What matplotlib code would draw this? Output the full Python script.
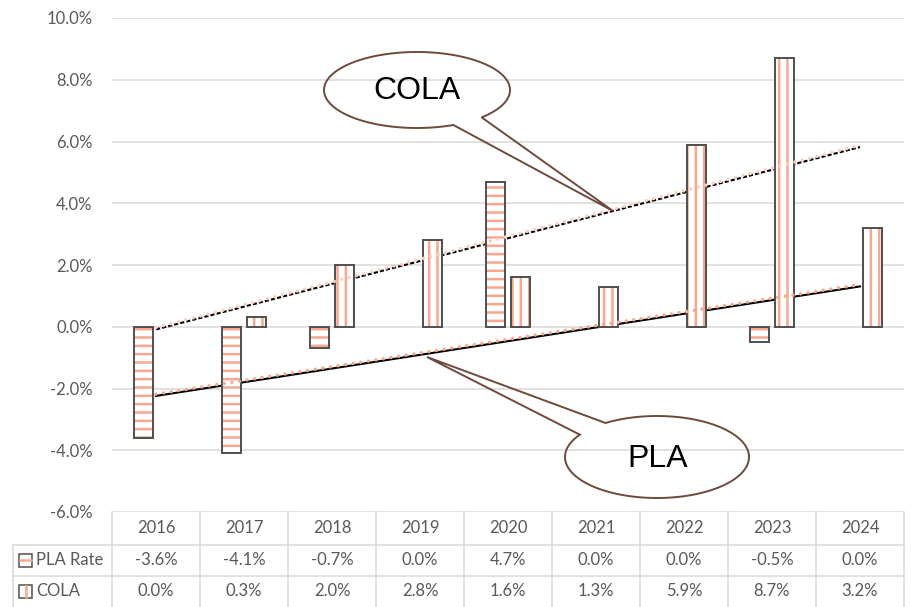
import numpy as np
import matplotlib
matplotlib.use("Agg")
import matplotlib.pyplot as plt
from matplotlib import transforms
from matplotlib.patches import Rectangle, Polygon
from matplotlib.lines import Line2D

# ---- data ----
years = ['2016', '2017', '2018', '2019', '2020', '2021', '2022', '2023', '2024']
pla_rate = [-3.6, -4.1, -0.7, 0.0, 4.7, 0.0, 0.0, -0.5, 0.0]
cola = [0.0, 0.3, 2.0, 2.8, 1.6, 1.3, 5.9, 8.7, 3.2]
series_names = ['PLA Rate', 'COLA']
y_ticks = [-6, -4, -2, 0, 2, 4, 6, 8, 10]

# ---- style ----
HATCH = '#F8A891'
EDGE = '#4F4F4F'
GRID = '#D9D9D9'
TXT = '#595959'
BROWN = '#6E4A3E'
FONT = 'Lato'
plt.rcParams['hatch.linewidth'] = 1.8
plt.rcParams['font.family'] = [FONT, 'DejaVu Sans']

W, H = 911, 607
fig = plt.figure(figsize=(W / 100, H / 100), dpi=100)
ax = fig.add_axes([112 / W, (H - 512) / H, (904 - 112) / W, (512 - 18) / H])

# pixel transform (y downward)
px = transforms.Affine2D().scale(1 / W, -1 / H).translate(0, 1) + fig.transFigure
blend = transforms.blended_transform_factory(ax.transData, px)

x = np.arange(len(years))
off = 0.142
bw = 0.227

for vals, dx, hatch in [(pla_rate, -off, '--'), (cola, off, '||')]:
    v = np.array(vals)
    idx = np.nonzero(v != 0)[0]
    ax.bar(x[idx] + dx, v[idx], bw, color='white', edgecolor=HATCH,
           linewidth=0, hatch=hatch, zorder=2)
    ax.bar(x[idx] + dx, v[idx], bw, fill=False, edgecolor=EDGE,
           linewidth=1.4, zorder=2.1)

# trendlines
xt = np.array([0, len(years) - 1])
p_cola = np.polyfit(x, cola, 1)
p_pla = np.polyfit(x, pla_rate, 1)
ax.plot(xt, np.polyval(p_cola, xt), color='black', ls=(0, (2, 1)), lw=1.5, zorder=1.5)
ax.plot(xt, np.polyval(p_cola, xt) + 0.06, color='#FAD0BE', ls=(0, (0.01, 2.2)), lw=2.5,
        dash_capstyle='round', zorder=3)
ax.plot(xt, np.polyval(p_pla, xt), color='black', ls='-', lw=1.5, zorder=1.5)
ax.plot(xt, np.polyval(p_pla, xt) + 0.06, color='#F6A990', ls=(0, (0.01, 2.2)), lw=2.5,
        dash_capstyle='round', zorder=3)

ax.set_xlim(-0.5, len(years) - 0.5)
ax.set_ylim(y_ticks[0], y_ticks[-1])
ax.set_yticks(y_ticks)
ax.yaxis.set_major_formatter(matplotlib.ticker.FuncFormatter(lambda v, _: f"{v:.1f}%"))
ax.set_xticks([])
ax.yaxis.grid(True, color=GRID, lw=1.1)
ax.set_axisbelow(True)
for s in ax.spines.values():
    s.set_visible(False)
ax.tick_params(axis='y', length=0, labelsize=12, labelcolor=TXT, pad=14)

# ---- callouts ----
def callout(cx, cy, a, b, t0, t1, tip):
    ts = np.radians(np.linspace(t0, t1, 300))
    pts = np.column_stack([cx + a * np.cos(ts), cy + b * np.sin(ts)])
    pts = np.vstack([pts, tip])
    fig.add_artist(Polygon(pts, closed=True, fill=False, edgecolor=BROWN,
                           lw=1.4, transform=px, zorder=5))

callout(417, 90, 93, 38, 67, 406, (613, 211))
callout(657, 457, 92, 41, 236, 573, (427, 357))
fig.text(417, 91, 'COLA', transform=px, ha='center', va='center',
         fontsize=23, family='Liberation Sans', color='black')
fig.text(658, 459, 'PLA', transform=px, ha='center', va='center',
         fontsize=23, family='Liberation Sans', color='black')

# ---- data table ----
def line(xs, ys, tr):
    fig.add_artist(Line2D(xs, ys, color=GRID, lw=1.1, transform=tr))

for k in range(len(years) + 1):
    line([k - 0.5, k - 0.5], [512, 607], blend)
line([13, 13], [545, 607], px)
line([13, 904], [545, 545], px)
line([13, 904], [576, 576], px)

for i, yr in enumerate(years):
    fig.text(i, 528, yr, transform=blend, ha='center', va='center',
             fontsize=12, color=TXT)
    fig.text(i, 560, f"{pla_rate[i]:.1f}%", transform=blend, ha='center',
             va='center', fontsize=12, color=TXT)
    fig.text(i, 591, f"{cola[i]:.1f}%", transform=blend, ha='center',
             va='center', fontsize=12, color=TXT)

for r, (name, yc) in enumerate(zip(series_names, [560, 591])):
    fig.text(36, yc, name, transform=px, ha='left', va='center',
             fontsize=12, color=TXT)
    fig.add_artist(Rectangle((19, yc - 6.5), 13, 13, transform=px,
                             facecolor='white', edgecolor=EDGE, lw=1.1))
    if r == 0:
        fig.add_artist(Line2D([20, 31], [yc, yc], color=HATCH, lw=1.8, transform=px))
    else:
        fig.add_artist(Line2D([26, 26], [yc - 5.5, yc + 5.5], color=HATCH, lw=1.8, transform=px))

fig.savefig('out.png', dpi=100)
